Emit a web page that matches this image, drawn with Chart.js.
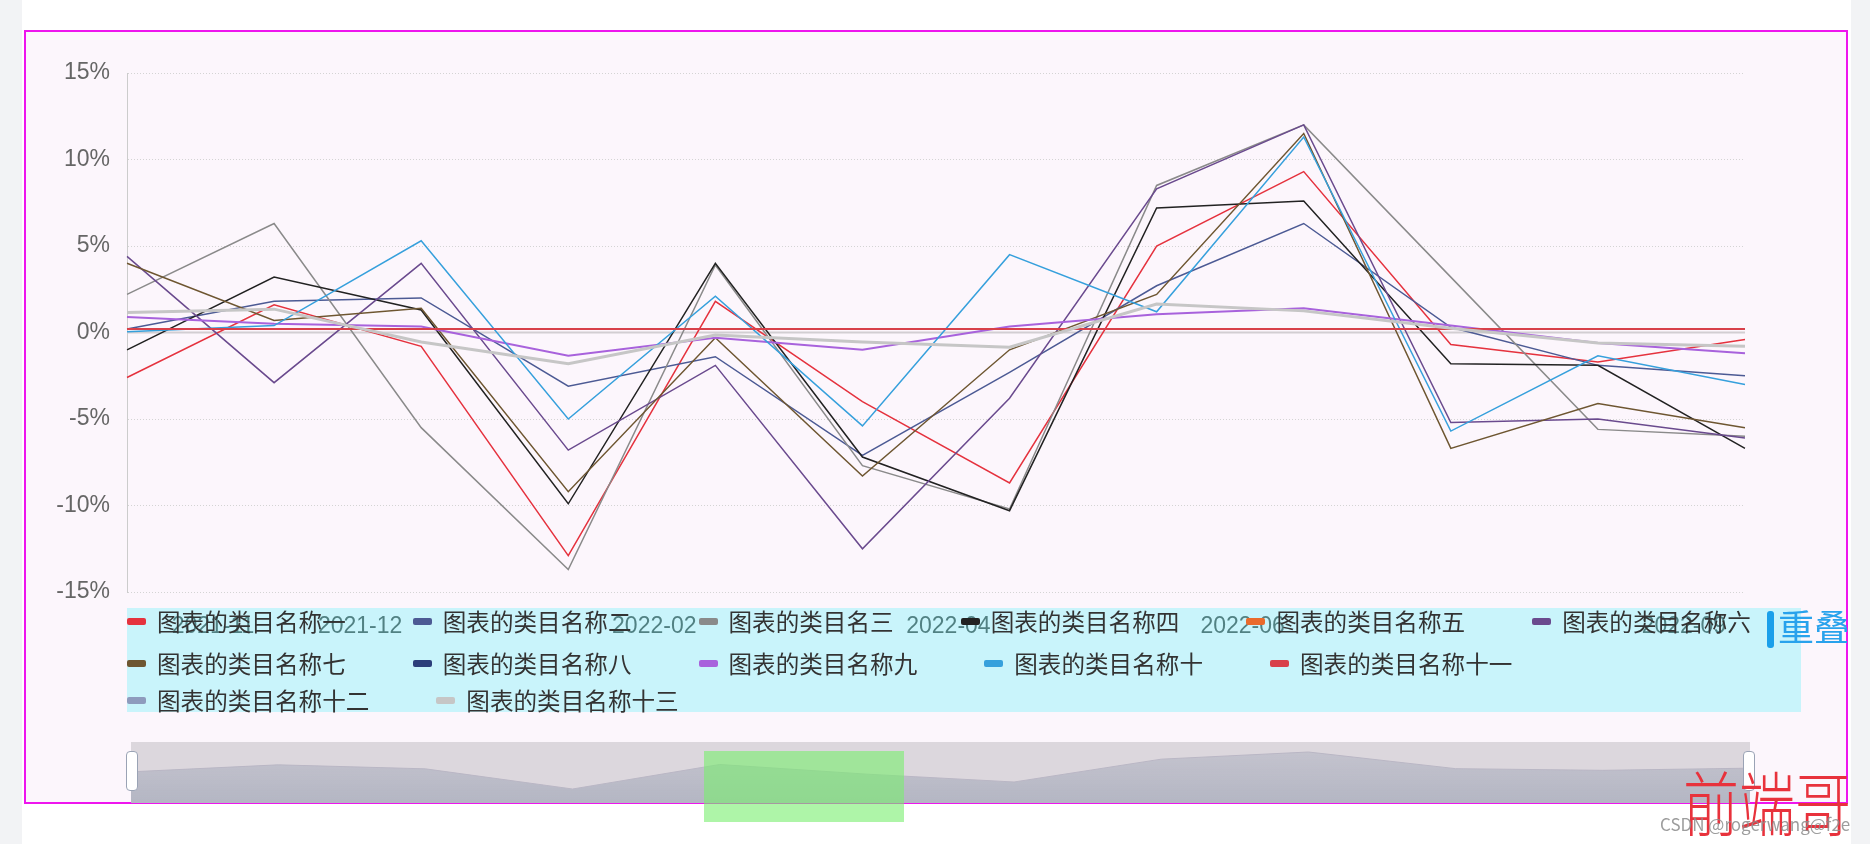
<!DOCTYPE html>
<html><head><meta charset="utf-8">
<script src="https://cdn.jsdelivr.net/npm/chart.js@4.4.1/dist/chart.umd.min.js"></script>
<style>
html,body{margin:0;padding:0;width:1870px;height:844px;overflow:hidden;background:#fff;font-family:"Noto Sans CJK SC","Liberation Sans",sans-serif;}
.abs{position:absolute;}
.row{position:absolute;left:127px;height:40px;display:flex;align-items:center;white-space:nowrap;}
.item{display:flex;align-items:center;margin-right:67px;}
.mk{width:19px;height:7px;border-radius:2px;margin-right:11px;}
.tx{font-size:23.6px;color:#333;line-height:40px;}
</style></head><body>
<div class="abs" style="left:0;top:0;width:22px;height:844px;background:#f2f3f5"></div>
<div class="abs" style="left:1851px;top:0;width:19px;height:844px;background:#f2f3f5"></div>
<div class="abs" style="left:24px;top:30px;width:1824px;height:774px;box-sizing:border-box;border:2px solid #ee15ee;background:#fcf6fc"></div>

<div class="abs" style="left:131px;top:742px;width:1619px;height:61px;background:#dcd7dd;z-index:1"></div>
<canvas id="zoom" class="abs" style="left:131px;top:742px;z-index:2" width="1619" height="61"></canvas>
<div class="abs" style="left:126px;top:751px;width:10px;height:38px;border:1px solid #9aa3b5;border-radius:4px;background:#fff;z-index:3"></div>
<div class="abs" style="left:1743px;top:751px;width:10px;height:38px;border:1px solid #9aa3b5;border-radius:4px;background:#fff;z-index:3"></div>

<canvas id="main" class="abs" style="left:0;top:0;z-index:4" width="1870" height="844"></canvas>
<div class="abs" style="left:127px;top:608px;width:1674px;height:104px;background:rgba(0,240,248,0.2);z-index:5"></div>
<div id="legend" class="abs" style="left:0;top:0;z-index:6"></div>
<div class="abs" style="left:1767px;top:611px;width:7px;height:37px;border-radius:3px;background:#1a9fea;z-index:6"></div>
<div class="abs" style="left:1778px;top:601px;font-size:36px;line-height:48px;color:#28a2ec;z-index:6;width:69px;overflow:hidden;white-space:nowrap">重叠</div>

<div class="abs" style="left:704px;top:751px;width:200px;height:71px;background:rgba(120,238,110,0.6);z-index:7"></div>
<div class="abs" style="left:1683px;top:766px;font-size:56px;line-height:70px;color:#e8323c;font-weight:300;z-index:8;transform:scaleY(1.25);transform-origin:50% 50%">前端哥</div>
<div class="abs" style="left:1660px;top:812px;font-size:17px;line-height:24px;color:rgba(140,140,140,0.85);z-index:9">CSDN @rogerwang@f2e</div>

<script>
const categories = ['2021-11','2021-12','2022-01','2022-02','2022-03','2022-04','2022-05','2022-06','2022-07','2022-08','2022-09','2022-10'];
const seriesNames = ['图表的类目名称一','图表的类目名称二','图表的类目名三','图表的类目名称四','图表的类目名称五','图表的类目名称六','图表的类目名称七','图表的类目名称八','图表的类目名称九','图表的类目名称十','图表的类目名称十一','图表的类目名称十二','图表的类目名称十三'];
const seriesColors = ['#e5323e','#4c5a94','#8a8a8a','#222222','#ea6a2c','#6a4a8e','#6e5631','#2c3e7a','#a862dc','#36a0dc','#d8404a','#8e9bbd','#c6c6c6'];
const seriesWidths = [1.5,1.5,1.5,1.5,1.5,1.5,1.5,1.5,2,1.5,2,1.5,3];
const s1 = [-2.6, 1.6, -0.8, -12.9, 1.8, -4.0, -8.7, 5.0, 9.3, -0.7, -1.7, -0.4];
const s2 = [0.2, 1.8, 2.0, -3.1, -1.4, -7.1, -2.3, 2.7, 6.3, 0.3, -1.9, -2.5];
const s3 = [2.2, 6.3, -5.5, -13.7, 3.9, -7.7, -10.2, 8.5, 12.0, 3.2, -5.6, -6.0];
const s4 = [-1.0, 3.2, 1.3, -9.9, 4.0, -7.2, -10.3, 7.2, 7.6, -1.8, -1.9, -6.7];
const s5 = [null, null, null, null, null, null, null, null, null, null, null, null];
const s6 = [4.4, -2.9, 4.0, -6.8, -1.9, -12.5, -3.8, 8.3, 12.0, -5.2, -5.0, -6.1];
const s7 = [4.0, 0.7, 1.4, -9.2, -0.3, -8.3, -1.0, 2.2, 11.5, -6.7, -4.1, -5.5];
const s8 = [null, null, null, null, null, null, null, null, null, null, null, null];
const s9 = [0.9, 0.5, 0.35, -1.35, -0.3, -1.0, 0.35, 1.05, 1.4, 0.4, -0.6, -1.2];
const s10 = [0.05, 0.4, 5.3, -5.0, 2.1, -5.4, 4.5, 1.2, 11.3, -5.7, -1.35, -3.0];
const s11 = [0.2, 0.2, 0.2, 0.2, 0.2, 0.2, 0.2, 0.2, 0.2, 0.2, 0.2, 0.2];
const s12 = [null, null, null, null, null, null, null, null, null, null, null, null];
const s13 = [1.15, 1.35, -0.55, -1.8, -0.15, -0.55, -0.85, 1.65, 1.25, 0.25, -0.6, -0.8];
const yTicks = [-15, -10, -5, 0, 5, 10, 15];
const shownLabelIdx = [0, 1, 3, 5, 7, 10];
const allSeries = [s1,s2,s3,s4,s5,s6,s7,s8,s9,s10,s11,s12,s13];

const datasets = allSeries.map((d,i)=>({
  label: seriesNames[i], data: d, borderColor: seriesColors[i], backgroundColor: seriesColors[i],
  borderWidth: seriesWidths[i], pointRadius: 0, tension: 0, fill: false, order: 13 - i
}));

const zeroLine = {
  id:'zeroLine',
  beforeDatasetsDraw(c){
    const y = c.scales.y.getPixelForValue(0);
    const {left,right} = c.chartArea; const g = c.ctx;
    g.save(); g.strokeStyle = '#d2ced2'; g.lineWidth = 2;
    g.beginPath(); g.moveTo(left,y); g.lineTo(right,y); g.stroke(); g.restore();
  }
};

new Chart(document.getElementById('main'), {
  type: 'line',
  data: { labels: categories, datasets },
  options: {
    responsive: false, animation: false, devicePixelRatio: 1,
    layout: { padding: { left: 0, right: 125, top: 73, bottom: 192 } },
    plugins: { legend: { display: false }, tooltip: { enabled: false } },
    scales: {
      x: {
        grid: { display: false }, border: { display: false },
        ticks: { autoSkip: false, maxRotation: 0, padding: 13, labelOffset: 86, color: '#666',
          font: { size: 23, family: 'Liberation Sans' },
          callback: (v, i) => (shownLabelIdx.includes(i) ? categories[i] : '') },
        afterFit: s => { s.height = 60; }
      },
      y: {
        min: -15, max: 15,
        afterBuildTicks: s => { s.ticks = yTicks.map(v => ({ value: v })); },
        ticks: { callback: v => v + '%', padding: 17, color: '#666', font: { size: 23, family: 'Liberation Sans' } },
        grid: { color: '#d4d4d4', drawTicks: false },
        border: { color: '#cccccc', dash: [1, 2] },
        afterFit: s => { s.width = 127; }
      }
    }
  },
  plugins: [zeroLine]
});

const zc = document.getElementById('zoom');
const zg = zc.getContext('2d');
const grad = zg.createLinearGradient(0, 0, 0, 61);
grad.addColorStop(0, 'rgba(180,182,196,0.55)');
grad.addColorStop(1, 'rgba(175,178,192,0.9)');
new Chart(zc, {
  type: 'line',
  data: { labels: categories, datasets: [{ data: s1, borderColor: '#b9b6c4', borderWidth: 1, backgroundColor: grad, fill: 'start', pointRadius: 0, tension: 0 }] },
  options: {
    responsive: false, animation: false, devicePixelRatio: 1,
    layout: { padding: 0 },
    plugins: { legend: { display: false }, tooltip: { enabled: false } },
    scales: { x: { display: false }, y: { display: false, min: -21.3, max: 15.3 } }
  }
});

// HTML legend
const rows = [[0,1,2,3,4,5],[6,7,8,9,10],[11,12]];
const rowTops = [601, 643, 680];
const lg = document.getElementById('legend');
rows.forEach((r, ri) => {
  const row = document.createElement('div');
  row.className = 'row'; row.style.top = rowTops[ri] + 'px';
  r.forEach(i => {
    const it = document.createElement('div'); it.className = 'item';
    const mk = document.createElement('div'); mk.className = 'mk'; mk.style.background = seriesColors[i];
    const tx = document.createElement('div'); tx.className = 'tx'; tx.textContent = seriesNames[i];
    it.appendChild(mk); it.appendChild(tx); row.appendChild(it);
  });
  lg.appendChild(row);
});
</script>
</body></html>
